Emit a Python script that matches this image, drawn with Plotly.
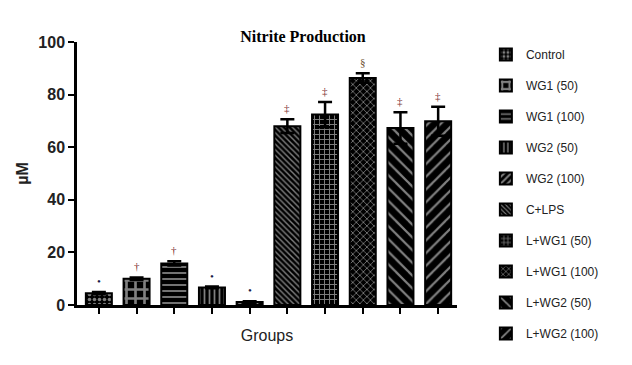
import plotly.graph_objects as go

groups = ["Control", "WG1 (50)", "WG1 (100)", "WG2 (50)", "WG2 (100)",
          "C+LPS", "L+WG1 (50)", "L+WG1 (100)", "L+WG2 (50)", "L+WG2 (100)"]
values = [4.5, 10.0, 15.8, 6.7, 1.1, 68.0, 72.4, 86.3, 67.3, 69.9]
errors = [0.4, 0.5, 0.8, 0.3, 0.3, 2.6, 4.8, 1.8, 6.0, 5.5]
marks = ["•", "†", "†", "•", "•", "‡", "‡", "§", "‡", "‡"]
mark_colors = ["#1c1c4a", "#7a2a2a", "#7a2a2a", "#1c1c4a", "#1c1c4a",
               "#7a2a2a", "#7a2a2a", "#6a4a2a", "#7a2a2a", "#7a2a2a"]

# pattern styles (shape, fg, bg, size, solidity)
patterns = [
    dict(shape=".", fgcolor="white", bgcolor="black", size=5, solidity=0.4),
    dict(shape="+", fgcolor="white", bgcolor="black", size=9, solidity=0.5),
    dict(shape="-", fgcolor="white", bgcolor="black", size=6, solidity=0.3),
    dict(shape="|", fgcolor="white", bgcolor="black", size=5, solidity=0.35),
    dict(shape="/", fgcolor="white", bgcolor="black", size=6, solidity=0.4),
    dict(shape="\\", fgcolor="white", bgcolor="black", size=4, solidity=0.35),
    dict(shape="+", fgcolor="white", bgcolor="black", size=5, solidity=0.35),
    dict(shape="x", fgcolor="white", bgcolor="black", size=5, solidity=0.3),
    dict(shape="\\", fgcolor="white", bgcolor="black", size=9, solidity=0.25),
    dict(shape="/", fgcolor="white", bgcolor="black", size=9, solidity=0.25),
]

fig = go.Figure()
for i, g in enumerate(groups):
    fig.add_trace(go.Bar(
        x=[i], y=[values[i]], name=g, legendgroup=g,
        width=0.69,
        marker=dict(color="black", line=dict(color="black", width=2),
                    pattern=patterns[i]),
        error_y=dict(type="data", array=[errors[i]], visible=True,
                     color="black", thickness=2.5, width=7),
        hoverinfo="name+y",
    ))
    fig.add_annotation(x=i, y=values[i] + errors[i], text=marks[i],
                       showarrow=False, yanchor="bottom", yshift=3,
                       font=dict(family="Liberation Serif", size=11,
                                 color=mark_colors[i]))

fig.update_layout(
    width=632, height=365,
    margin=dict(l=69, r=183, t=34, b=68, autoexpand=False),
    paper_bgcolor="white", plot_bgcolor="white",
    barmode="overlay",
    title=dict(text="<b>Nitrite Production</b>", x=295 / 632, xanchor="center",
               y=1 - 28 / 365, yanchor="middle",
               font=dict(family="Liberation Serif", size=16, color="black")),
    legend=dict(x=1.076, xanchor="left", y=1.0076,
                yanchor="top",
                font=dict(family="Liberation Sans", size=12, color="#222"),
                tracegroupgap=12, traceorder="grouped",
                itemwidth=30, bgcolor="rgba(0,0,0,0)", maxheight=400),
    showlegend=True,
)
fig.update_xaxes(
    range=[-0.58, 9.5], showticklabels=False, ticks="outside", ticklen=6,
    tickwidth=2, tickcolor="black", tickvals=list(range(10)),
    showline=True, linecolor="black", linewidth=2.5, showgrid=False,
    zeroline=False,
    title=dict(text="Groups", font=dict(family="Liberation Sans", size=16,
                                        color="#222"), standoff=18),
)
fig.update_yaxes(
    range=[0, 100], tickvals=[0, 20, 40, 60, 80, 100], ticks="outside",
    ticklen=6, tickwidth=2, tickcolor="black",
    showline=True, linecolor="black", linewidth=2.5, showgrid=False,
    zeroline=False,
    tickfont=dict(family="Liberation Sans", size=16, color="#222",
                  weight="bold"),
    title=dict(text="<b>µM</b>", font=dict(family="Liberation Sans", size=16,
                                          color="#222"), standoff=6),
)
fig.write_html("out.html")
